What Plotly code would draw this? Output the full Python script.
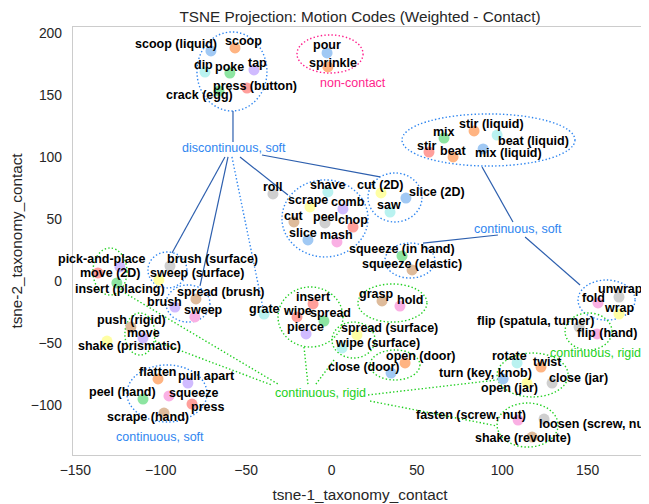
import plotly.graph_objects as go

# ---- data: t-SNE coordinates of each motion code ----
names = [
    "scoop (liquid)", "scoop", "dip", "poke", "tap", "press (button)", "crack (egg)",
    "pour", "sprinkle",
    "mix", "stir (liquid)", "beat (liquid)", "stir", "beat", "mix (liquid)",
    "roll", "shave", "cut (2D)", "slice (2D)", "scrape", "comb", "saw", "cut", "peel",
    "chop", "slice", "mash", "squeeze (in hand)", "squeeze (elastic)",
    "pick-and-place", "move (2D)", "insert (placing)", "brush (surface)", "sweep (surface)",
    "spread (brush)", "brush", "sweep", "push (rigid)", "move", "shake (prismatic)",
    "grate", "insert", "wipe", "spread", "pierce", "grasp", "hold",
    "spread (surface)", "wipe (surface)", "open (door)", "close (door)",
    "unwrap", "fold", "wrap", "flip (spatula, turner)", "flip (hand)",
    "rotate", "twist", "turn (key, knob)", "open (jar)", "close (jar)",
    "fasten (screw, nut)", "loosen (screw, nut)", "shake (revolute)",
    "flatten", "pull apart", "peel (hand)", "squeeze", "press", "scrape (hand)",
]
tsne_1 = [
    -70.6, -56.5, -74.1, -59.5, -45.4, -49.5, -65.9,
    -2.6, -2.1,
    65.9, 83.5, 97.0, 57.1, 71.2, 88.8,
    -34.3, -2.1, 29.0, 43.6, -12.6, 6.7, 34.3, -22.0, -3.8,
    12.6, -13.8, 3.2, 41.3, 47.2,
    -123.9, -136.8, -125.7, -94.6, -101.1,
    -79.4, -91.7, -80.0, -117.5, -110.4, -131.5,
    -39.5, -10.8, -20.2, -4.4, -14.9, 29.6, 40.1,
    14.9, 6.2, 43.1, 34.9,
    168.4, 156.1, 168.4, 145.0, 155.5,
    108.7, 122.7, 100.5, 114.5, 129.2,
    109.3, 124.5, 117.5,
    -101.6, -84.1, -110.4, -95.2, -81.7, -98.1,
]
tsne_2 = [
    185.5, 187.9, 168.5, 167.7, 170.2, 155.6, 153.2,
    183.9, 172.6,
    115.3, 121.0, 117.7, 104.0, 100.0, 106.5,
    70.2, 71.8, 71.0, 66.9, 59.7, 58.1, 55.6, 47.6, 46.8,
    43.5, 33.1, 31.5, 20.2, 8.9,
    11.3, 6.5, -1.6, 12.1, 0.8,
    -14.5, -21.0, -29.0, -37.1, -46.0, -48.4,
    -26.6, -18.5, -29.0, -32.3, -42.7, -16.1, -20.2,
    -43.5, -54.0, -66.1, -74.2,
    -12.9, -17.7, -26.6, -37.1, -42.7,
    -66.1, -69.4, -79.0, -82.3, -82.3,
    -112.1, -111.3, -125.8,
    -79.0, -82.3, -95.2, -92.7, -99.2, -106.5,
]

# group names and where they are written
group_text = ["discontinuous, soft", "non-contact", "continuous, soft",
              "continuous, rigid", "continuous, rigid", "continuous, soft"]
group_kind = ["soft", "noncontact", "soft", "rigid", "rigid", "soft"]
group_x = [-57.1, 12.6, 109.3, -6.7, 154.6, -100.5]
group_y = [107.3, 159.7, 41.9, -90.3, -58.1, -125.8]

# ---- styling ----
PASTEL = {
    "blue": "#a1c9f4", "orange": "#ffb482", "green": "#8de5a1", "red": "#ff9f9b",
    "purple": "#d0bbff", "brown": "#debb9b", "pink": "#fab0e4", "gray": "#cfcfcf",
    "yellow": "#fffea3", "cyan": "#b9f2f0",
}
point_colors = [
    "blue", "orange", "cyan", "green", "purple", "red", "green",
    "blue", "orange",
    "green", "orange", "cyan", "red", "orange", "blue",
    "gray", "cyan", "yellow", "blue", "yellow", "purple", "cyan", "brown", "gray",
    "red", "blue", "pink", "green", "brown",
    "purple", "red", "green", "gray", "yellow",
    "brown", "purple", "pink", "brown", "purple", "yellow",
    "cyan", "red", "red", "green", "purple", "brown", "pink",
    "yellow", "cyan", "orange", "blue",
    "gray", "pink", "yellow", "gray", "pink",
    "cyan", "orange", "blue", "yellow", "gray",
    "pink", "gray", "brown",
    "orange", "purple", "green", "pink", "red", "brown",
]
# label offset from its point, pixels (right, down)
label_offset = [
    (-35, -7), (8, -7), (-1, -7), (0, -6), (4, -7), (8, -2), (-19, 4),
    (0, -8), (5, -4),
    (0, -6), (17, -7), (36, 6), (-2, -6), (0, -6), (25, 4),
    (0, -7), (0, -7), (-1, -8), (31, -6), (-2, -7), (5, -7), (-1, -7), (0, -6), (0, -6),
    (0, -7), (-5, -7), (0, -7), (0, -7), (0, -6),
    (-18, -8), (12, 0), (3, 6), (43, -7), (38, -7),
    (25, -7), (-10, -5), (9, -7), (1, -7), (0, -5), (23, 5),
    (0, -5), (0, -7), (0, -6), (7, -8), (-1, -7), (-6, -7), (10, -6),
    (33, -7), (35, -5), (15, -7), (-27, -6),
    (1, -8), (-5, -5), (0, -6), (-44, -6), (10, -1),
    (-8, -7), (7, -5), (-18, -6), (-17, 5), (26, -5),
    (-47, -5), (51, 5), (-9, 1),
    (0, -7), (19, -7), (-21, -7), (25, -3), (15, 3), (-16, 4),
]

KIND_COLOR = {"soft": "#2f86f0", "rigid": "#22d022", "noncontact": "#ff1f8c"}
LINK_COLOR = "#2d5fae"
DOTS = "1.4px,2.2px"

# dotted ellipses around clusters: (kind, x0, x1, y0, y1)
ellipses = [
    ("soft", -78.8, -37.8, 137.1, 200.8),
    ("noncontact", -20.2, 18.5, 167.7, 198.4),
    ("soft", 41.3, 142.6, 92.7, 134.7),
    ("soft", -29.0, 21.4, 19.4, 81.5),
    ("soft", 21.4, 53.0, 47.6, 87.1),
    ("soft", 31.3, 60.6, 2.4, 30.6),
    ("rigid", -139.7, -119.8, -11.3, 26.6),
    ("soft", -107.5, -84.7, -5.6, 23.4),
    ("soft", -96.9, -71.2, -33.1, -3.2),
    ("rigid", -121.0, -103.4, -59.7, -25.8),
    ("rigid", -31.3, 6.7, -53.2, -4.8),
    ("rigid", 15.5, 55.9, -33.1, -2.4),
    ("rigid", 0.3, 25.5, -62.1, -33.1),
    ("rigid", 22.6, 51.8, -79.8, -55.6),
    ("soft", 144.4, 177.8, -31.5, 0.8),
    ("rigid", 136.8, 164.3, -55.6, -25.8),
    ("rigid", 97.0, 138.6, -93.5, -58.1),
    ("rigid", 97.0, 132.7, -133.9, -98.4),
    ("soft", -119.8, -72.9, -113.7, -67.7),
]
# connectors from group labels to clusters: (style, x0, y0, x1, y1)
links = [
    ("solid", -57.7, 112.1, -57.7, 137.1),
    ("solid", -40.7, 101.6, 28.4, 83.9),
    ("solid", -53.6, 100.0, -25.5, 69.4),
    ("solid", -62.4, 100.0, -93.4, 22.6),
    ("solid", -60.6, 100.0, -77.0, -4.0),
    ("softdot", -58.3, 100.0, -40.1, -21.8),
    ("solid", 106.3, 47.6, 88.2, 91.9),
    ("solid", 97.5, 37.1, 53.6, 30.6),
    ("solid", 113.4, 35.5, 145.6, -3.2),
    ("rigid", -121.0, -9.7, -31.3, -83.1),
    ("rigid", -103.4, -48.4, -34.9, -83.9),
    ("rigid", -16.1, -53.2, -13.8, -83.1),
    ("rigid", 1.5, -63.7, -9.1, -83.1),
    ("rigid", 21.4, -91.9, 97.0, -79.8),
    ("rigid", 22.6, -96.8, 97.0, -116.9),
]

FONT = "Liberation Sans, Arial, sans-serif"

fig = go.Figure()

shapes = []
for kind, x0, x1, y0, y1 in ellipses:
    shapes.append(dict(type="circle", xref="x", yref="y", x0=x0, x1=x1, y0=y0, y1=y1,
                       line=dict(color=KIND_COLOR[kind], width=1.4, dash=DOTS), layer="below"))
for style, x0, y0, x1, y1 in links:
    if style == "solid":
        line = dict(color=LINK_COLOR, width=1.2)
    elif style == "softdot":
        line = dict(color=KIND_COLOR["soft"], width=1.4, dash=DOTS)
    else:
        line = dict(color=KIND_COLOR["rigid"], width=1.4, dash=DOTS)
    shapes.append(dict(type="line", xref="x", yref="y", x0=x0, y0=y0, x1=x1, y1=y1,
                       line=line, layer="below"))

fig.add_trace(
    go.Scatter(
        x=tsne_1,
        y=tsne_2,
        mode="markers",
        marker=dict(size=11, color=[PASTEL[c] for c in point_colors], line=dict(width=0)),
        text=names,
        hoverinfo="text",
        showlegend=False,
    )
)

annotations = []
for name, x, y, (dx, dy) in zip(names, tsne_1, tsne_2, label_offset):
    annotations.append(dict(x=x, y=y, xref="x", yref="y", text=name, showarrow=False,
                            xshift=dx, yshift=-dy, xanchor="center", yanchor="middle",
                            font=dict(family=FONT, size=12.5, color="black", weight="bold")))
for text, kind, x, y in zip(group_text, group_kind, group_x, group_y):
    annotations.append(dict(x=x, y=y, xref="x", yref="y", text=text, showarrow=False,
                            xanchor="center", yanchor="middle",
                            font=dict(family=FONT, size=12.5, color=KIND_COLOR[kind])))

# the page puts the figure 8px in from its top-left corner, so the figure is 8px smaller
fig.update_layout(
    width=641,
    height=496,
    margin=dict(l=65, r=2, t=19, b=49, autoexpand=False),
    paper_bgcolor="white",
    plot_bgcolor="white",
    font=dict(family=FONT, color="#262626"),
    title=dict(text="TSNE Projection: Motion Codes (Weighted - Contact)", x=0.5, xref="paper",
               y=0.983, yanchor="middle", font=dict(size=15.3, color="#262626"),
               automargin=False),
    shapes=shapes,
    annotations=annotations,
)
axis_style = dict(showgrid=False, zeroline=False, showline=True, mirror=True,
                  linecolor="#cccccc", linewidth=1.3, ticks="", ticklen=0,
                  tickfont=dict(size=13.9), automargin=False)
fig.update_xaxes(range=[-151.4, 184.8], tickvals=[-150, -100, -50, 0, 50, 100, 150],
                 ticklabelstandoff=2,
                 title=dict(text="tsne-1_taxonomy_contact", font=dict(size=15.3), standoff=12),
                 **axis_style)
fig.update_yaxes(range=[-140.3, 204.8], tickvals=[-100, -50, 0, 50, 100, 150, 200],
                 ticklabelstandoff=7,
                 title=dict(text="tsne-2_taxonomy_contact", font=dict(size=15.3), standoff=14),
                 **axis_style)

fig.write_html("out.html")
